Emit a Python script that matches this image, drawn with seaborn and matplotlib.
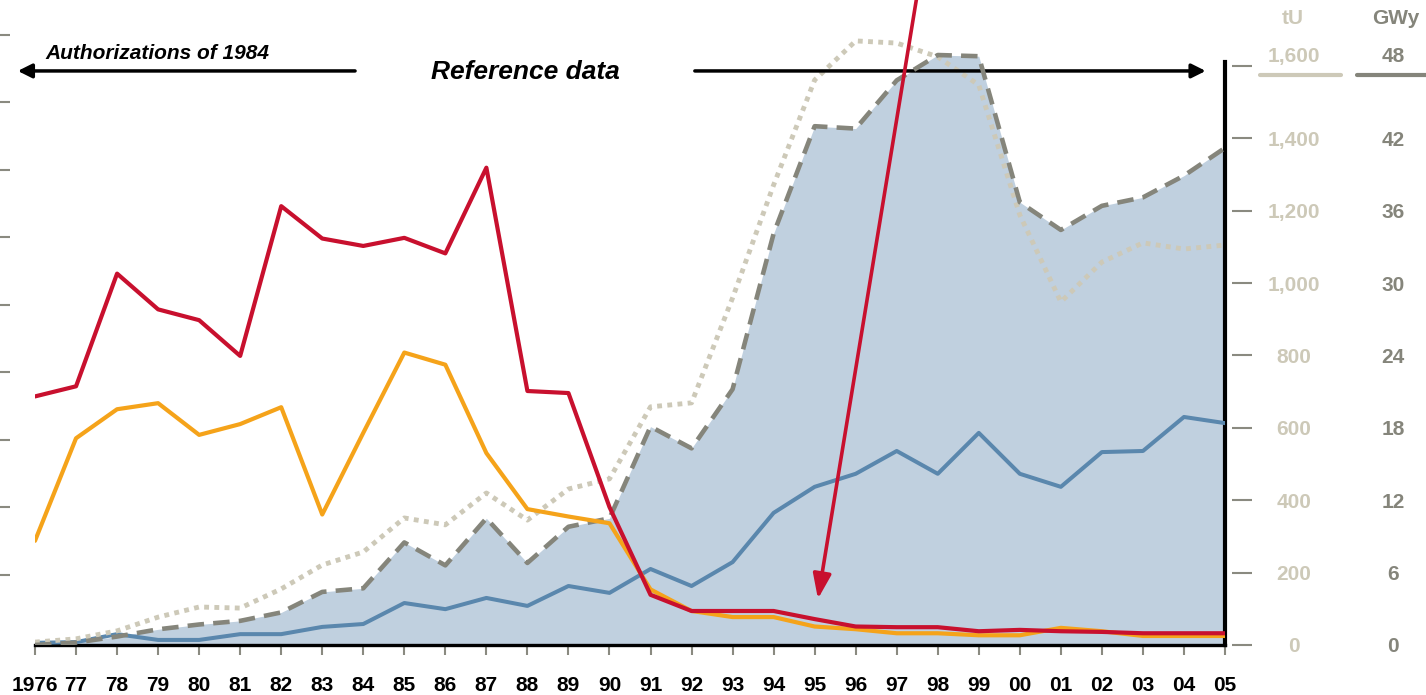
import matplotlib
matplotlib.use("Agg")
import matplotlib.pyplot as plt
from matplotlib.lines import Line2D
import seaborn as sns

# --------------------------------------------------------------------------- #
# Data
# --------------------------------------------------------------------------- #
years = list(range(1976, 2006))
year_labels = ["1976", "77", "78", "79", "80", "81", "82", "83", "84", "85",
               "86", "87", "88", "89", "90", "91", "92", "93", "94", "95",
               "96", "97", "98", "99", "00", "01", "02", "03", "04", "05"]

# left (unlabelled) axis units
red_vals = [3.64, 3.79, 5.46, 4.93, 4.77, 4.24, 6.46, 5.98, 5.87, 5.99,
            5.76, 7.03, 3.72, 3.69, 2.00, 0.70, 0.46, 0.46, 0.46, 0.34,
            0.23, 0.22, 0.22, 0.16, 0.18, 0.16, 0.15, 0.13, 0.13, 0.13]
orange_vals = [1.50, 3.02, 3.45, 3.54, 3.07, 3.23, 3.48, 1.89, 3.10, 4.29,
               4.11, 2.80, 1.97, 1.86, 1.76, 0.78, 0.46, 0.37, 0.37, 0.23,
               0.19, 0.13, 0.13, 0.10, 0.10, 0.21, 0.16, 0.09, 0.09, 0.09]

# tU axis
blue_tu = [6, 8, 30, 14, 14, 30, 30, 50, 58, 116,
           99, 130, 108, 163, 144, 210, 163, 229, 365, 437,
           473, 536, 473, 586, 473, 437, 533, 536, 630, 613]
dotted_tu = [8, 17, 39, 77, 105, 102, 155, 221, 257, 351,
             332, 420, 345, 431, 459, 658, 669, 959, 1271, 1561,
             1669, 1663, 1625, 1547, 1188, 948, 1058, 1111, 1094, 1105]

# GWy axis
dashed_gwy = [0.0, 0.2, 0.7, 1.3, 1.7, 2.0, 2.7, 4.4, 4.7, 8.5,
              6.6, 10.5, 6.8, 9.8, 10.5, 18.1, 16.3, 21.2, 34.1, 43.0,
              42.8, 46.8, 48.9, 48.8, 36.7, 34.4, 36.4, 37.1, 38.9, 41.2]

left_ticks = [1, 2, 3, 4, 5, 6, 7, 8, 9]
tu_ticks = [0, 200, 400, 600, 800, 1000, 1200, 1400, 1600]
tu_labels = ["0", "200", "400", "600", "800", "1,000", "1,200", "1,400", "1,600"]
gwy_ticks = [0, 6, 12, 18, 24, 30, 36, 42, 48]
gwy_labels = ["0", "6", "12", "18", "24", "30", "36", "42", "48"]

RED = "#c8102e"
ORANGE = "#f5a31a"
BLUE = "#5a87ad"
FILL = "#c0d0df"
DASH_GRAY = "#85857b"
BEIGE = "#cdc9b8"
TICK_GRAY = "#8a8a80"

TU_TOP = 1782.0
LABEL_SIZE = 15

sns.set_style("white")
plt.rcParams["font.family"] = ["Liberation Sans", "DejaVu Sans"]
plt.rcParams["text.color"] = "black"

fig = plt.figure(figsize=(14.26, 6.95), dpi=100)
ax = fig.add_axes([35 / 1426, 50 / 695, 1190 / 1426, 645 / 695])
ax_g = ax.twinx()
ax_l = ax.twinx()

for a in (ax, ax_g, ax_l):
    a.set_xlim(1976, 2005)
    for s in a.spines.values():
        s.set_visible(False)
    a.grid(False)

ax.set_ylim(0, TU_TOP)
ax_g.set_ylim(0, TU_TOP * 48 / 1600)
ax_l.set_ylim(-0.044, 9.515)

# --- tU axis (base): area under the GWy curve, blue, dotted
dashed_as_tu = [v * 1600 / 48 for v in dashed_gwy]
ax.fill_between(years, dashed_as_tu, color=FILL, lw=0, zorder=1)
sns.lineplot(x=years, y=blue_tu, ax=ax, color=BLUE, lw=2.9, zorder=3)
sns.lineplot(x=years, y=dotted_tu, ax=ax, color=BEIGE, lw=3.5,
             linestyle=(0, (1, 1.1)), zorder=4)

# --- GWy axis: dashed
sns.lineplot(x=years, y=dashed_gwy, ax=ax_g, color=DASH_GRAY, lw=3.3,
             linestyle=(0, (3.6, 2.0)), zorder=3)

# --- left axis: orange and red
sns.lineplot(x=years, y=orange_vals, ax=ax_l, color=ORANGE, lw=3.0, zorder=3)
sns.lineplot(x=years, y=red_vals, ax=ax_l, color=RED, lw=3.0, zorder=4)

# bottom axis
ax.spines["bottom"].set_visible(True)
ax.spines["bottom"].set_color("black")
ax.spines["bottom"].set_linewidth(2.4)
ax.set_xticks(years)
ax.set_xticklabels(year_labels, fontsize=LABEL_SIZE, fontweight="bold")
ax.tick_params(axis="x", bottom=True, length=7.2, width=1.5, color=TICK_GRAY,
               pad=15, labelcolor="black")

# right black line + tU labels
ax.yaxis.tick_right()
ax.spines["right"].set_visible(True)
ax.spines["right"].set_color("black")
ax.spines["right"].set_linewidth(3)
ax.spines["right"].set_bounds(0, 1610)
ax.set_yticks(tu_ticks)
ax.set_yticklabels(tu_labels, fontsize=LABEL_SIZE, fontweight="bold")
ax.tick_params(axis="y", right=True, left=False, labelright=True, labelleft=False,
               length=0, pad=49.5, labelcolor=BEIGE)
for lbl in ax.get_yticklabels():
    lbl.set_ha("center")
ax.get_yticklabels()[-1].set_va("bottom")

# GWy tick marks and labels
ax_g.spines["right"].set_position(("outward", 5))
ax_g.set_yticks(gwy_ticks)
ax_g.set_yticklabels(gwy_labels, fontsize=LABEL_SIZE, fontweight="bold")
ax_g.tick_params(axis="y", right=True, length=14.4, width=1.5, color=TICK_GRAY,
                 pad=101.5, labelcolor=DASH_GRAY)
for lbl in ax_g.get_yticklabels():
    lbl.set_ha("center")
ax_g.get_yticklabels()[-1].set_va("bottom")

# left tick marks (no labels)
ax_l.yaxis.tick_left()
ax_l.spines["left"].set_position(("outward", 18))
ax_l.set_yticks(left_ticks)
ax_l.tick_params(axis="y", left=True, right=False, labelleft=False, labelright=False,
                 length=7.2, width=1.5, color=TICK_GRAY)

# axis headers and legend swatches
fig.text(1293 / 1426, 1 - 18 / 695, "tU", ha="center", va="center",
         fontsize=LABEL_SIZE, fontweight="bold", color=BEIGE)
fig.text(1396 / 1426, 1 - 18 / 695, "GWy", ha="center", va="center",
         fontsize=LABEL_SIZE, fontweight="bold", color=DASH_GRAY)
fig.add_artist(Line2D([1260 / 1426, 1341 / 1426], [1 - 75 / 695] * 2,
                      transform=fig.transFigure, color=BEIGE, lw=3))
fig.add_artist(Line2D([1357 / 1426, 1426 / 1426], [1 - 75 / 695] * 2,
                      transform=fig.transFigure, color=DASH_GRAY, lw=3))

# annotations
ax.text(1976.25, 1633, "Authorizations of 1984", fontsize=15, color="black",
        fontweight="bold", fontstyle="italic", ha="left", va="center", zorder=6)
ax.annotate("", xy=(1975.58, 1586), xytext=(1983.8, 1586), annotation_clip=False,
            arrowprops=dict(arrowstyle="-|>,head_length=0.6,head_width=0.3",
                            mutation_scale=14, lw=2.5, color="black",
                            shrinkA=0, shrinkB=0), zorder=6)
ax.text(1987.94, 1582, "Reference data", fontsize=19, fontweight="bold",
        color="black", fontstyle="italic", ha="center", va="center", zorder=6)
ax.annotate("", xy=(2004.53, 1586), xytext=(1992.08, 1586), annotation_clip=False,
            arrowprops=dict(arrowstyle="-|>,head_length=0.6,head_width=0.3",
                            mutation_scale=14, lw=2.5, color="black",
                            shrinkA=0, shrinkB=0), zorder=6)
ax_l.annotate("", xy=(1995.08, 0.64), xytext=(1997.5, 9.6), annotation_clip=False,
              arrowprops=dict(arrowstyle="-|>,head_length=0.6,head_width=0.22",
                              mutation_scale=25, lw=2.6, color=RED,
                              shrinkA=0, shrinkB=0), zorder=7)

fig.savefig("out.png", dpi=100)
